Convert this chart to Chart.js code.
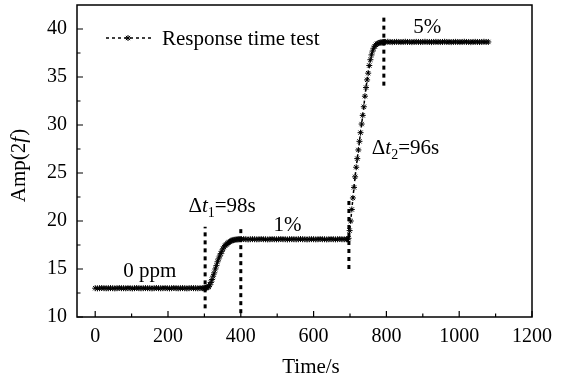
<!DOCTYPE html>
<html>
<head>
<meta charset="utf-8">
<script src="https://cdn.jsdelivr.net/npm/chart.js@4/dist/chart.umd.min.js"></script>
<style>
    html, body { margin: 0; padding: 0; background: #fff; }
</style>
</head>
<body>
<canvas id="myChart" width="569" height="379"></canvas>
<script>
let timeS = [
    0, 6, 12, 18, 24, 30, 36, 42, 48, 54, 60, 66, 72, 78, 84, 90, 96, 102, 108, 114,
    120, 126, 132, 138, 144, 150, 156, 162, 168, 174, 180, 186, 192, 198, 204, 210, 216, 222, 228, 234,
    240, 246, 252, 258, 264, 270, 276, 282, 288, 294,
    297, 300, 303, 306, 309, 312, 315, 318, 321, 324, 327, 330, 333, 336, 339, 342, 345, 348, 351, 354,
    357, 360, 363, 366, 369, 372, 375, 378, 381, 384, 387, 390, 393, 396, 399,
    402, 408, 414, 420, 426, 432, 438, 444, 450, 456, 462, 468, 474, 480, 486, 492, 498, 504, 510, 516,
    522, 528, 534, 540, 546, 552, 558, 564, 570, 576, 582, 588, 594, 600, 606, 612, 618, 624, 630, 636,
    642, 648, 654, 660, 666, 672, 678, 684, 690,
    693, 696, 699, 702, 705, 708, 711, 714, 717, 720, 723, 726, 729, 732, 735, 738, 741, 744, 747, 750,
    753, 756, 759, 762, 765, 768, 771, 774, 777, 780, 783, 786, 789, 792, 795,
    798, 804, 810, 816, 822, 828, 834, 840, 846, 852, 858, 864, 870, 876, 882, 888, 894, 900, 906, 912,
    918, 924, 930, 936, 942, 948, 954, 960, 966, 972, 978, 984, 990, 996, 1002, 1008, 1014, 1020, 1026, 1032,
    1038, 1044, 1050, 1056, 1062, 1068, 1074, 1080
];
let ampSignal = [
    13.0, 12.98, 13.0, 13.02, 13.0, 12.99, 13.0, 13.01, 13.0, 12.98,
    13.0, 13.02, 13.0, 13.0, 12.99, 13.01, 13.0, 12.98, 13.0, 13.02,
    13.0, 12.99, 13.0, 13.01, 13.0, 13.0, 12.98, 13.0, 13.02, 13.0,
    12.99, 13.0, 13.01, 13.0, 12.98, 13.0, 13.02, 13.0, 12.99, 13.0,
    13.01, 13.0, 12.98, 13.0, 13.02, 13.0, 13.0, 12.99, 13.01, 13.0,
    13.0, 13.0, 13.02, 13.05, 13.1, 13.15, 13.35, 13.6, 13.9, 14.25,
    14.6, 15.0, 15.35, 15.75, 16.05, 16.35, 16.6, 16.85, 17.1, 17.3,
    17.45, 17.55, 17.65, 17.75, 17.82, 17.9, 17.95, 18.0, 18.03, 18.05,
    18.07, 18.08, 18.1, 18.1, 18.1,
    18.1, 18.12, 18.1, 18.08, 18.1, 18.11, 18.1, 18.09, 18.1, 18.12,
    18.1, 18.1, 18.08, 18.1, 18.11, 18.1, 18.09, 18.1, 18.12, 18.1,
    18.1, 18.08, 18.1, 18.11, 18.1, 18.09, 18.1, 18.12, 18.1, 18.1,
    18.08, 18.1, 18.11, 18.1, 18.09, 18.1, 18.12, 18.1, 18.1, 18.08,
    18.1, 18.11, 18.1, 18.09, 18.1, 18.12, 18.1, 18.1, 18.1,
    18.1, 18.2, 19.0, 20.0, 21.2, 22.4, 23.5, 24.6, 25.6, 26.5,
    27.4, 28.3, 29.2, 30.1, 31.0, 31.9, 33.0, 33.9, 34.7, 35.4,
    36.2, 36.8, 37.3, 37.7, 38.0, 38.2, 38.35, 38.45, 38.5, 38.55,
    38.6, 38.6, 38.62, 38.63, 38.65,
    38.65, 38.67, 38.65, 38.63, 38.65, 38.66, 38.65, 38.64, 38.65, 38.67,
    38.65, 38.65, 38.63, 38.65, 38.66, 38.65, 38.64, 38.65, 38.67, 38.65,
    38.65, 38.63, 38.65, 38.66, 38.65, 38.64, 38.65, 38.67, 38.65, 38.65,
    38.63, 38.65, 38.66, 38.65, 38.64, 38.65, 38.67, 38.65, 38.65, 38.63,
    38.65, 38.66, 38.65, 38.64, 38.65, 38.67, 38.65, 38.65
];

// dotted vertical markers (start/end of each response)
let markerTimes = [302, 400, 697, 793];
let markerLow = [10.9, 10.4, 15.0, 34.1];
let markerHigh = [19.4, 19.3, 22.4, 41.5];

let xTicks = [0, 200, 400, 600, 800, 1000, 1200];
let yTicks = [10, 15, 20, 25, 30, 35, 40];

let noteTexts = ['0 ppm', '1%', '5%'];
let noteX = [77, 490, 874];
let noteY = [14.15, 18.95, 39.6];

let deltaSubs = ['1', '2'];
let deltaRest = ['=98s', '=96s'];
let deltaX = [256, 760];
let deltaY = [20.92, 26.97];

const serif = '"Liberation Serif", "Times New Roman", serif';

let datasets = [{
    label: 'Response time test',
    data: timeS.map((t, i) => ({x: t, y: ampSignal[i]})),
    borderColor: '#000',
    backgroundColor: '#000',
    borderWidth: 1.5,
    borderDash: [3, 3],
    pointStyle: 'star',
    pointRadius: 3,
    pointBorderWidth: 1,
    pointBorderColor: '#000',
    tension: 0,
}];

for (let i = 0; i < markerTimes.length; i++) {
    datasets.push({
        label: 'marker' + i,
        data: [{x: markerTimes[i], y: markerLow[i]}, {x: markerTimes[i], y: markerHigh[i]}],
        borderColor: '#000',
        borderWidth: 3,
        borderDash: [4, 4],
        borderCapStyle: 'butt',
        pointRadius: 0,
    });
}

const drawTicks = (ctx, chart) => {
    let xs = chart.scales.x;
    let ys = chart.scales.y;
    let a = chart.chartArea;
    ctx.strokeStyle = '#000';
    ctx.lineWidth = 1.5;
    ctx.setLineDash([]);
    ctx.strokeRect(a.left, a.top, a.right - a.left, a.bottom - a.top);
    ctx.lineWidth = 1.2;
    ctx.beginPath();
    for (let i = 0; i < xTicks.length; i++) {
        let px = xs.getPixelForValue(xTicks[i]);
        ctx.moveTo(px, a.bottom);
        ctx.lineTo(px, a.bottom - 6);
        if (i < xTicks.length - 1) {
            let mx = xs.getPixelForValue((xTicks[i] + xTicks[i + 1]) / 2);
            ctx.moveTo(mx, a.bottom);
            ctx.lineTo(mx, a.bottom - 3.5);
        }
    }
    for (let i = 0; i < yTicks.length; i++) {
        let py = ys.getPixelForValue(yTicks[i]);
        ctx.moveTo(a.left, py);
        ctx.lineTo(a.left + 6, py);
        let my = ys.getPixelForValue(yTicks[i] + 2.5);
        if (my > a.top + 2) {
            ctx.moveTo(a.left, my);
            ctx.lineTo(a.left + 3.5, my);
        }
    }
    ctx.stroke();
}

const textPlugin = {
    id: 'textPlugin',
    afterDraw(chart) {
        let ctx = chart.ctx;
        let xs = chart.scales.x;
        let ys = chart.scales.y;
        ctx.save();
        drawTicks(ctx, chart);

        ctx.fillStyle = '#000';
        ctx.textBaseline = 'alphabetic';
        ctx.textAlign = 'left';
        ctx.font = '21px ' + serif;
        for (let i = 0; i < noteTexts.length; i++) {
            ctx.fillText(noteTexts[i], xs.getPixelForValue(noteX[i]), ys.getPixelForValue(noteY[i]));
        }

        for (let i = 0; i < deltaSubs.length; i++) {
            let x = xs.getPixelForValue(deltaX[i]);
            let y = ys.getPixelForValue(deltaY[i]);
            ctx.font = '21px ' + serif;
            ctx.fillText('\u0394', x, y);
            x += ctx.measureText('\u0394').width;
            ctx.font = 'italic 21px ' + serif;
            ctx.fillText('t', x, y);
            x += ctx.measureText('t').width;
            ctx.font = '14px ' + serif;
            ctx.fillText(deltaSubs[i], x, y + 5);
            x += ctx.measureText(deltaSubs[i]).width;
            ctx.font = '21px ' + serif;
            ctx.fillText(deltaRest[i], x, y);
        }

        // legend inside plot
        ctx.strokeStyle = '#000';
        ctx.lineWidth = 1.5;
        ctx.setLineDash([3, 3]);
        ctx.beginPath();
        ctx.moveTo(106, 38);
        ctx.lineTo(151, 38);
        ctx.stroke();
        ctx.setLineDash([]);
        ctx.lineWidth = 1;
        Chart.helpers.drawPoint(ctx, {pointStyle: 'star', radius: 3, borderWidth: 1}, 128, 38);
        ctx.font = '21px ' + serif;
        ctx.fillText('Response time test', 162, 45);

        // axis titles
        ctx.textAlign = 'center';
        ctx.fillText('Time/s', 311, 373);

        ctx.translate(25, 166);
        ctx.rotate(-Math.PI / 2);
        let w1 = ctx.measureText('Amp(2').width;
        ctx.font = 'italic 21px ' + serif;
        let w2 = ctx.measureText('f').width;
        ctx.font = '21px ' + serif;
        let w3 = ctx.measureText(')').width;
        let sx = -(w1 + w2 + w3) / 2;
        ctx.textAlign = 'left';
        ctx.fillText('Amp(2', sx, 0);
        ctx.font = 'italic 21px ' + serif;
        ctx.fillText('f', sx + w1, 0);
        ctx.font = '21px ' + serif;
        ctx.fillText(')', sx + w1 + w2 + 1, 0);
        ctx.restore();
    }
};

let ctx = document.getElementById('myChart').getContext('2d');
let myChart = new Chart(ctx, {
    type: 'line',
    data: {datasets: datasets},
    options: {
        responsive: false,
        animation: false,
        devicePixelRatio: 1,
        layout: {padding: {top: 4, right: 37, left: 0, bottom: 0}},
        plugins: {
            legend: {display: false},
            tooltip: {enabled: false},
        },
        scales: {
            x: {
                type: 'linear',
                min: -50,
                max: 1200,
                afterBuildTicks: (scale) => { scale.ticks = xTicks.map(v => ({value: v})); },
                afterFit: (scale) => {
                    scale.height = 62;
                    scale.paddingLeft = 0;
                    scale.paddingRight = 0;
                },
                grid: {display: false, drawTicks: false},
                border: {display: false},
                ticks: {
                    padding: 8,
                    color: '#000',
                    font: {family: serif, size: 20},
                    callback: (v) => String(v),
                },
            },
            y: {
                min: 10,
                max: 42.5,
                afterBuildTicks: (scale) => { scale.ticks = yTicks.map(v => ({value: v})); },
                afterFit: (scale) => {
                    scale.width = 77;
                    scale.paddingTop = 0;
                    scale.paddingBottom = 0;
                },
                grid: {display: false, drawTicks: false},
                border: {display: false},
                ticks: {
                    padding: 10,
                    color: '#000',
                    font: {family: serif, size: 20},
                    callback: (v) => String(v),
                },
            },
        },
    },
    plugins: [textPlugin],
});
</script>
</body>
</html>
